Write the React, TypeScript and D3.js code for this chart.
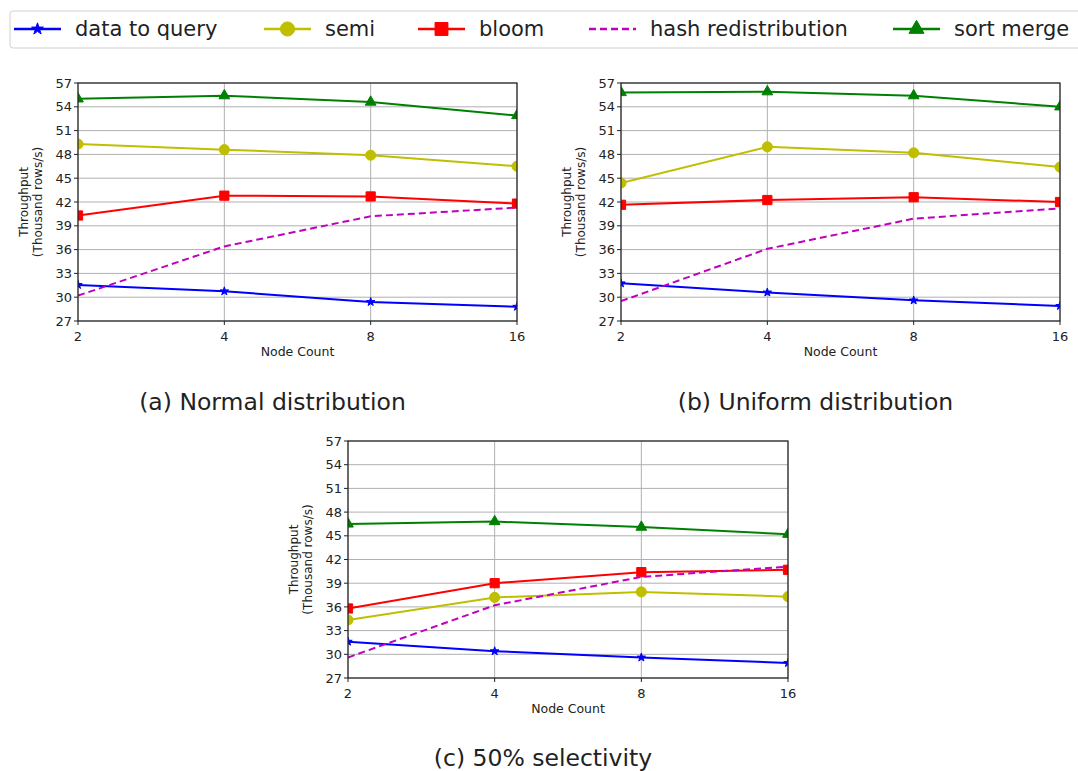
import React, {useEffect, useRef} from 'react';
import * as d3 from 'd3';

const nodeCounts = [2, 4, 8, 16];
const yTicks = [27, 30, 33, 36, 39, 42, 45, 48, 51, 54, 57];

const seriesNames = ['data to query', 'semi', 'bloom', 'hash redistribution', 'sort merge'];
const seriesColors = ['#0000ff', '#bfbf00', '#ff0000', '#bf00bf', '#008000'];
const seriesMarkers = ['star', 'circle', 'square', 'none', 'triangle'];

// (a) Normal distribution
const normalDtq = [31.55, 30.75, 29.4, 28.8];
const normalSemi = [49.3, 48.6, 47.9, 46.5];
const normalBloom = [40.3, 42.8, 42.7, 41.8];
const normalHash = [30.2, 36.4, 40.2, 41.3];
const normalSort = [55.0, 55.4, 54.6, 52.9];

// (b) Uniform distribution
const uniformDtq = [31.75, 30.6, 29.6, 28.9];
const uniformSemi = [44.4, 48.95, 48.2, 46.4];
const uniformBloom = [41.65, 42.25, 42.6, 42.0];
const uniformHash = [29.5, 36.1, 39.9, 41.2];
const uniformSort = [55.8, 55.9, 55.4, 54.0];

// (c) 50% selectivity
const selDtq = [31.6, 30.4, 29.6, 28.9];
const selSemi = [34.35, 37.2, 37.9, 37.3];
const selBloom = [35.8, 39.0, 40.4, 40.7];
const selHash = [29.6, 36.2, 39.8, 41.1];
const selSort = [46.5, 46.8, 46.1, 45.2];

const FONT = '"DejaVu Sans", Verdana, sans-serif';

function symbolFor(kind: string, big: boolean) {
    const k = big ? 1.4 : 1;
    if (kind === 'star') return d3.symbol().type(d3.symbolStar).size(22 * k * k)();
    if (kind === 'circle') return d3.symbol().type(d3.symbolCircle).size(80 * k * k)();
    if (kind === 'square') return d3.symbol().type(d3.symbolSquare).size(85 * k * k)();
    if (kind === 'triangle') return d3.symbol().type(d3.symbolTriangle).size(50 * k * k)();
    return null;
}

function drawPanel(svg: any, id: string, left: number, top: number, width: number, height: number,
                   data: number[][], caption: string, captionY: number) {
    const g = svg.append('g');
    const x = d3.scaleLog().base(2).domain([2, 16]).range([left, left + width]);
    const y = d3.scaleLinear().domain([27, 57]).range([top + height, top]);

    // grid
    g.selectAll('line.hg').data(yTicks).enter().append('line')
        .attr('x1', left).attr('x2', left + width)
        .attr('y1', (d: number) => y(d)).attr('y2', (d: number) => y(d))
        .attr('stroke', '#b0b0b0').attr('stroke-width', 1);
    g.selectAll('line.vg').data(nodeCounts).enter().append('line')
        .attr('x1', (d: number) => x(d)).attr('x2', (d: number) => x(d))
        .attr('y1', top).attr('y2', top + height)
        .attr('stroke', '#b0b0b0').attr('stroke-width', 1);

    // clip
    svg.append('clipPath').attr('id', 'clip-' + id)
        .append('rect').attr('x', left).attr('y', top).attr('width', width).attr('height', height);

    const plot = g.append('g').attr('clip-path', `url(#clip-${id})`);
    const line = d3.line<number>().x((d, i) => x(nodeCounts[i])).y(d => y(d));

    data.forEach((vals, si) => {
        plot.append('path')
            .attr('d', line(vals))
            .attr('fill', 'none')
            .attr('stroke', seriesColors[si])
            .attr('stroke-width', 2)
            .attr('stroke-dasharray', seriesMarkers[si] === 'none' ? '7,4' : null);
        const sym = symbolFor(seriesMarkers[si], false);
        if (sym) {
            plot.selectAll('path.m' + si).data(vals).enter().append('path')
                .attr('class', 'm' + si)
                .attr('d', sym)
                .attr('transform', (d: number, i: number) => `translate(${x(nodeCounts[i])},${y(d)})`)
                .attr('fill', seriesColors[si])
                .attr('stroke', seriesColors[si])
                .attr('stroke-width', 1);
        }
    });

    // frame
    g.append('rect').attr('x', left).attr('y', top).attr('width', width).attr('height', height)
        .attr('fill', 'none').attr('stroke', '#222').attr('stroke-width', 1.2);

    // y ticks
    yTicks.forEach(t => {
        g.append('line').attr('x1', left - 4).attr('x2', left).attr('y1', y(t)).attr('y2', y(t))
            .attr('stroke', '#222');
        g.append('text').attr('x', left - 6).attr('y', y(t)).attr('dy', '0.36em')
            .attr('text-anchor', 'end').attr('font-size', 13).attr('font-family', FONT)
            .attr('fill', '#222').text(t);
    });
    // x ticks
    nodeCounts.forEach(t => {
        g.append('line').attr('x1', x(t)).attr('x2', x(t)).attr('y1', top + height).attr('y2', top + height + 4)
            .attr('stroke', '#222');
        g.append('text').attr('x', x(t)).attr('y', top + height + 20)
            .attr('text-anchor', 'middle').attr('font-size', 13).attr('font-family', FONT)
            .attr('fill', '#222').text(t);
    });

    g.append('text').attr('x', left + width / 2).attr('y', top + height + 35)
        .attr('text-anchor', 'middle').attr('font-size', 12.5).attr('font-family', FONT)
        .attr('fill', '#222').text('Node Count');

    const cy = top + height / 2;
    const yl = g.append('text').attr('transform', `translate(${left - 50},${cy}) rotate(-90)`)
        .attr('text-anchor', 'middle').attr('font-size', 12).attr('font-family', FONT).attr('fill', '#222');
    yl.append('tspan').attr('x', 0).attr('dy', 0).text('Throughput');
    yl.append('tspan').attr('x', 0).attr('dy', 14).text('(Thousand rows/s)');

    g.append('text').attr('x', left + width / 2 - 25).attr('y', captionY)
        .attr('text-anchor', 'middle').attr('font-size', 23.5).attr('font-family', FONT)
        .attr('fill', '#222').text(caption);
}

export default function App() {
    const ref = useRef<SVGSVGElement>(null);

    useEffect(() => {
        const svg = d3.select(ref.current);
        svg.selectAll('*').remove();

        drawPanel(svg, 'a', 78, 83, 439, 238,
            [normalDtq, normalSemi, normalBloom, normalHash, normalSort], '(a) Normal distribution', 410);
        drawPanel(svg, 'b', 621, 83, 439, 238,
            [uniformDtq, uniformSemi, uniformBloom, uniformHash, uniformSort], '(b) Uniform distribution', 410);
        drawPanel(svg, 'c', 348, 441, 440, 237,
            [selDtq, selSemi, selBloom, selHash, selSort], '(c) 50% selectivity', 766);

        // legend
        const lg = svg.append('g');
        lg.append('rect').attr('x', 10).attr('y', 11).attr('width', 1075).attr('height', 37).attr('rx', 3)
            .attr('fill', '#fff').attr('stroke', '#d0d0d0').attr('stroke-width', 1);
        const lx = [14, 264, 418, 589, 893];
        seriesNames.forEach((name, i) => {
            const x0 = lx[i];
            lg.append('line').attr('x1', x0).attr('x2', x0 + 47).attr('y1', 29).attr('y2', 29)
                .attr('stroke', seriesColors[i]).attr('stroke-width', 2.5)
                .attr('stroke-dasharray', seriesMarkers[i] === 'none' ? '7,4' : null);
            const sym = symbolFor(seriesMarkers[i], true);
            if (sym) {
                lg.append('path').attr('d', sym).attr('transform', `translate(${x0 + 23.5},29)`)
                    .attr('fill', seriesColors[i]).attr('stroke', seriesColors[i]);
            }
            lg.append('text').attr('x', x0 + 61).attr('y', 29).attr('dy', '0.35em')
                .attr('font-size', 21).attr('font-family', FONT).attr('fill', '#222').text(name);
        });
    }, []);

    return <svg ref={ref} width={1078} height={771}
                style={{position: 'absolute', left: 0, top: 0, background: '#fff'}}/>;
}
